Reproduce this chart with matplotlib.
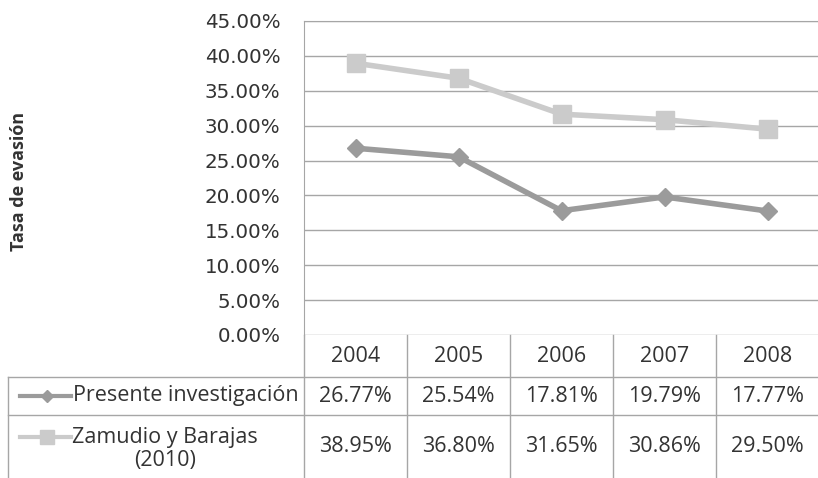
import matplotlib.pyplot as plt
import matplotlib.transforms as mtransforms

years = ["2004", "2005", "2006", "2007", "2008"]
presente = [26.77, 25.54, 17.81, 19.79, 17.77]
zamudio = [38.95, 36.80, 31.65, 30.86, 29.50]
series_names = ["Presente investigación", "Zamudio y Barajas\n(2010)"]

W, H = 818, 478
fig = plt.figure(figsize=(W / 100, H / 100), dpi=100)
ax = fig.add_axes([304 / W, 1 - 335 / H, 515 / W, 314 / H])

dark = "#9b9b9b"
light = "#cbcbcb"
grid_c = "#a6a6a6"
txt_c = "#333333"
font = "Open Sans"
fs = 15.5

x = range(len(years))
ax.plot(x, zamudio, color=light, lw=4, marker="s", ms=13, zorder=3)
ax.plot(x, presente, color=dark, lw=4, marker="D", ms=9, zorder=4)

ax.set_xlim(-0.5, 4.5)
ax.set_ylim(0, 45)
ax.set_yticks(range(0, 50, 5))
ax.set_yticklabels([f"{v:.2f}%" for v in range(0, 50, 5)], fontsize=14.3,
                   color=txt_c, family="DejaVu Sans")
ax.set_xticks([])
ax.tick_params(axis="y", length=0, pad=17)
ax.grid(axis="y", color=grid_c, lw=1)
for s in ax.spines.values():
    s.set_color(grid_c)
ax.spines["bottom"].set_visible(False)
ax.set_ylabel("Tasa de evasión", fontsize=13, fontweight="bold", color=txt_c,
              family=font, labelpad=0)
ax.yaxis.set_label_coords(-0.536, 0.49)

# data table below the plot (y in figure pixels)
tr = mtransforms.blended_transform_factory(ax.transData, fig.dpi_scale_trans)
def py(p):
    return (H - p) / 100

line_kw = dict(color=grid_c, lw=1, transform=tr, clip_on=False)
# vertical column borders
for b in [-0.5, 0.5, 1.5, 2.5, 3.5, 4.5]:
    ax.plot([b, b], [py(335), py(480)], **line_kw)
# horizontal borders spanning the whole table
for yp in [377, 415]:
    fig.add_artist(plt.Line2D([8 / W, 1], [1 - yp / H, 1 - yp / H],
                              color=grid_c, lw=1))
fig.add_artist(plt.Line2D([8 / W, 8 / W], [1 - 377 / H, 0], color=grid_c, lw=1))

for i, yr in enumerate(years):
    ax.text(i, py(357), yr, ha="center", va="center", fontsize=fs,
            color=txt_c, family=font, transform=tr)
    ax.text(i, py(397), f"{presente[i]:.2f}%", ha="center", va="center",
            fontsize=fs, color=txt_c, family=font, transform=tr)
    ax.text(i, py(447), f"{zamudio[i]:.2f}%", ha="center", va="center",
            fontsize=fs, color=txt_c, family=font, transform=tr)

# legend keys inside the table
fig.add_artist(plt.Line2D([20 / W, 47 / W, 71 / W], [1 - 396 / H] * 3,
                          color=dark, lw=3, marker="D", ms=6, markevery=[1]))
fig.add_artist(plt.Line2D([20 / W, 47 / W, 71 / W], [1 - 437 / H] * 3,
                          color=light, lw=3, marker="s", ms=10, markevery=[1]))
fig.text(73 / W, 1 - 396 / H, series_names[0], ha="left", va="center",
         fontsize=fs, color=txt_c, family=font)
fig.text(165 / W, 1 - 449 / H, series_names[1], ha="center", va="center",
         fontsize=fs, color=txt_c, family=font, linespacing=1.15)

fig.savefig("out.png", dpi=100)
